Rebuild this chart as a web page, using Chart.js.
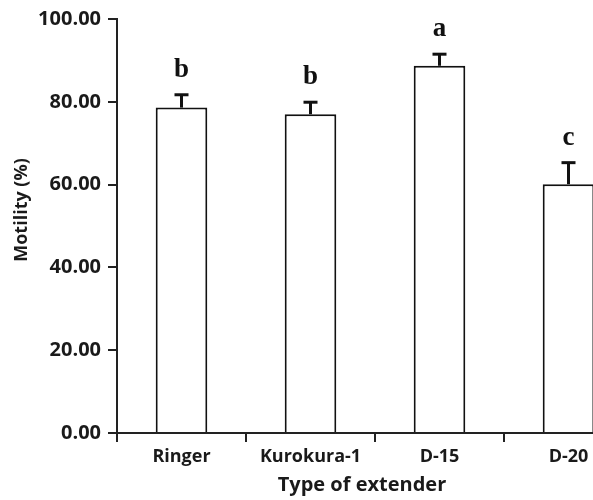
<!DOCTYPE html>
<html>
<head>
<meta charset="utf-8">
<script src="https://cdn.jsdelivr.net/npm/chart.js@4"></script>
<style>
html,body{margin:0;padding:0;background:#fff;overflow:hidden;width:593px;height:500px;}
#wrap{width:660px;height:500px;position:relative;}
</style>
</head>
<body>
<div id="wrap"><canvas id="c" width="660" height="500"></canvas></div>
<script>
const categories = ['Ringer', 'Kurokura-1', 'D-15', 'D-20'];
const motility = [78.6, 77.0, 88.7, 60.1];
const errors = [3.1, 2.9, 2.8, 5.2];
const letters = ['b', 'b', 'a', 'c'];
const yTicks = [0, 20, 40, 60, 80, 100];
const xTitle = 'Type of extender';
const yTitle = 'Motility (%)';

const errPlugin = {
  id: 'errbars',
  afterDatasetsDraw(chart) {
    const ctx = chart.ctx;
    const meta = chart.getDatasetMeta(0);
    const ys = chart.scales.y;
    ctx.save();
    ctx.strokeStyle = '#111';
    ctx.fillStyle = '#111';
    meta.data.forEach((bar, i) => {
      const x = bar.x;
      const yTop = ys.getPixelForValue(motility[i]);
      const yE = ys.getPixelForValue(motility[i] + errors[i]);
      ctx.lineWidth = 3;
      ctx.beginPath();
      ctx.moveTo(x, yTop);
      ctx.lineTo(x, yE);
      ctx.stroke();
      ctx.beginPath();
      ctx.moveTo(x - 7, yE);
      ctx.lineTo(x + 7, yE);
      ctx.stroke();
      ctx.font = 'bold 27px "Liberation Serif"';
      ctx.textAlign = 'center';
      ctx.textBaseline = 'alphabetic';
      ctx.fillText(letters[i], x, yE - 18);
    });
    // axis titles
    ctx.fillStyle = '#1a1a1a';
    ctx.font = 'bold 20px "Open Sans"';
    ctx.textAlign = 'center';
    ctx.textBaseline = 'middle';
    ctx.fillText(xTitle, 362, 485);
    ctx.save();
    ctx.translate(22, 210);
    ctx.rotate(-Math.PI / 2);
    ctx.font = 'bold 18px "Open Sans"';
    ctx.fillText(yTitle, 0, 0);
    ctx.restore();
    ctx.restore();
  }
};

new Chart(document.getElementById('c'), {
  type: 'bar',
  data: {
    labels: categories,
    datasets: [{
      data: motility,
      backgroundColor: '#ffffff',
      borderColor: '#111',
      borderWidth: 2,
      barPercentage: 0.4,
      categoryPercentage: 1.0
    }]
  },
  options: {
    responsive: false,
    animation: false,
    devicePixelRatio: 1,
    layout: { padding: { top: 15, right: 27, left: 0, bottom: 0 } },
    plugins: { legend: { display: false }, tooltip: { enabled: false } },
    scales: {
      x: {
        grid: { drawOnChartArea: false, offset: true, color: '#222', tickLength: 9, lineWidth: 2 },
        border: { color: '#222', width: 2 },
        ticks: { color: '#1a1a1a', font: { family: '"Open Sans"', weight: 'bold', size: 18 }, padding: 4 },
        afterFit(s) { s.height = 67; }
      },
      y: {
        min: 0, max: 100,
        afterBuildTicks(s) { s.ticks = yTicks.map(v => ({ value: v })); },
        grid: { drawOnChartArea: false, color: '#222', tickLength: 9, lineWidth: 2 },
        border: { color: '#222', width: 2 },
        ticks: { color: '#1a1a1a', font: { family: '"Open Sans"', weight: 'bold', size: 20 }, padding: 7,
                 callback: v => Number(v).toFixed(2) },
        afterFit(s) { s.width = 117; }
      }
    }
  },
  plugins: [errPlugin]
});
</script>
</body>
</html>
